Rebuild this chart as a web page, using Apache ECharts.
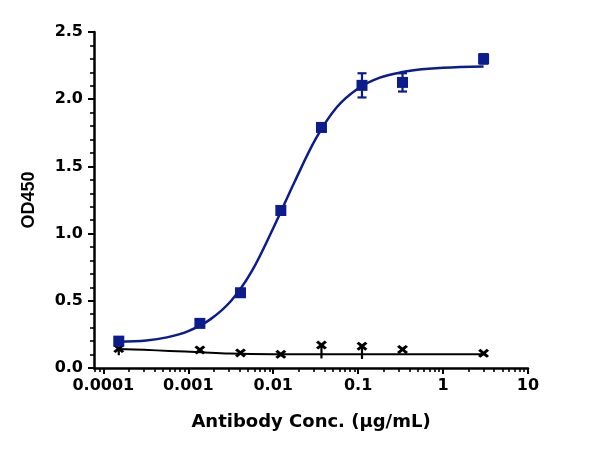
<!DOCTYPE html>
<html>
<head>
<meta charset="utf-8">
<script src="https://cdn.jsdelivr.net/npm/echarts@6/dist/echarts.min.js"></script>
<style>
  html, body { margin: 0; padding: 0; background: #fff; }
  #chart { width: 600px; height: 451px; }
</style>
</head>
<body>
<div id="chart"></div>
<script>
// 浓度 (µg/mL) 与 OD450 读数
const conc = [0.000152, 0.00137, 0.00412, 0.0123, 0.037, 0.111, 0.333, 3.0]
const blueMean = [0.200, 0.332, 0.560, 1.172, 1.790, 2.103, 2.125, 2.300]
const blueErr = [0.010, 0.012, 0.020, 0.012, 0.030, 0.090, 0.068, 0.035]
const blackMean = [0.145, 0.134, 0.112, 0.102, 0.171, 0.162, 0.138, 0.109]
const blackErrLow = [0.050, 0.010, 0.010, 0.010, 0.100, 0.095, 0.010, 0.010]

// 拟合曲线
const blueCurveConc = [0.00015, 0.00032, 0.00056, 0.001, 0.0018, 0.0032, 0.0056, 0.01, 0.018, 0.032, 0.056, 0.1, 0.18, 0.32, 0.56, 1, 3]
const blueCurveVal = [0.195, 0.205, 0.228, 0.275, 0.360, 0.500, 0.720, 1.040, 1.390, 1.710, 1.940, 2.080, 2.160, 2.200, 2.222, 2.234, 2.243]
const blackCurveConc = [0.00015, 0.0003, 0.0006, 0.0014, 0.003, 0.01, 0.1, 3]
const blackCurveVal = [0.141, 0.135, 0.127, 0.117, 0.108, 0.103, 0.102, 0.102]

// 坐标轴刻度
const xTickLabels = ['0.0001', '0.001', '0.01', '0.1', '1', '10']
const xMajorExp = [-4, -3, -2, -1, 0, 1]
const xMinorMult = [2, 3, 4, 5, 6, 7, 8, 9]

const BLUE = '#0c1c8c'
const lg = Math.log10

const minorTicks = [lg(8e-5), lg(9e-5)]
xMajorExp.slice(0, -1).forEach(e => {
  xMinorMult.forEach(m => minorTicks.push(lg(m) + e))
})

const X_MIN = -4.11
const X_MAX = 1
const gridRect = { left: 94, right: 72, top: 32, bottom: 83 }
const bold16 = { fontFamily: 'DejaVu Sans', fontWeight: 'bold', fontSize: 16, color: '#000' }

const xSymbol = 'path://M0,2.5 L2.5,0 L6,3.5 L9.5,0 L12,2.5 L8.5,6 L12,9.5 L9.5,12 L6,8.5 L2.5,12 L0,9.5 L3.5,6 Z'

const errorBar = (color, capW) => (params, api) => {
  const top = api.coord([api.value(0), api.value(2)])
  const bot = api.coord([api.value(0), api.value(1)])
  const style = { stroke: color, lineWidth: 2.2 }
  const children = [
    { type: 'line', shape: { x1: top[0], y1: top[1], x2: bot[0], y2: bot[1] }, style }
  ]
  if (capW > 0) {
    children.push(
      { type: 'line', shape: { x1: top[0] - capW, y1: top[1], x2: top[0] + capW, y2: top[1] }, style },
      { type: 'line', shape: { x1: bot[0] - capW, y1: bot[1], x2: bot[0] + capW, y2: bot[1] }, style }
    )
  }
  return { type: 'group', children }
}

const chart = echarts.init(document.getElementById('chart'), null, { renderer: 'canvas' })

chart.setOption({
  backgroundColor: '#fff',
  animation: false,
  grid: [gridRect, gridRect],
  xAxis: [
    {
      type: 'value',
      gridIndex: 0,
      min: X_MIN,
      max: X_MAX,
      name: 'Antibody Conc. (μg/mL)',
      nameLocation: 'middle',
      nameGap: 45,
      nameTextStyle: { fontFamily: 'DejaVu Sans', fontWeight: 'bold', fontSize: 18, color: '#000' },
      axisLine: { onZero: false, lineStyle: { color: '#000', width: 2.5 } },
      axisTick: { length: 6, lineStyle: { color: '#000', width: 2 }, customValues: xMajorExp },
      axisLabel: {
        ...bold16,
        margin: 10,
        customValues: xMajorExp,
        formatter: v => xTickLabels[Math.round(v) + 4]
      },
      splitLine: { show: false }
    },
    {
      type: 'value',
      gridIndex: 1,
      min: X_MIN,
      max: X_MAX,
      axisLine: { show: false, onZero: false },
      axisTick: { length: 4, lineStyle: { color: '#000', width: 1.6 }, customValues: minorTicks },
      axisLabel: { show: false },
      splitLine: { show: false }
    }
  ],
  yAxis: [
    {
      type: 'value',
      gridIndex: 0,
      min: 0,
      max: 2.5,
      interval: 0.5,
      name: 'OD450',
      nameLocation: 'middle',
      nameGap: 56,
      nameTextStyle: { fontFamily: 'Liberation Sans Narrow, Liberation Sans', fontWeight: 'bold', fontSize: 18, color: '#000' },
      axisLine: { show: true, onZero: false, lineStyle: { color: '#000', width: 2.5 } },
      axisTick: { show: true, length: 6, lineStyle: { color: '#000', width: 2 } },
      minorTick: { show: true, splitNumber: 5, length: 4, lineStyle: { color: '#000', width: 1.6 } },
      axisLabel: { ...bold16, margin: 11, formatter: v => v.toFixed(1) },
      splitLine: { show: false }
    },
    {
      type: 'value',
      gridIndex: 1,
      min: 0,
      max: 2.5,
      show: false
    }
  ],
  series: [
    {
      type: 'line',
      data: blackCurveConc.map((c, i) => [lg(c), blackCurveVal[i]]),
      smooth: 0.35,
      symbol: 'none',
      lineStyle: { color: '#000', width: 2 },
      z: 2
    },
    {
      type: 'custom',
      data: conc.map((c, i) => [lg(c), blackMean[i] - blackErrLow[i], blackMean[i]]),
      renderItem: errorBar('#000', 0),
      z: 3
    },
    {
      type: 'scatter',
      data: conc.map((c, i) => [lg(c), blackMean[i]]),
      symbol: xSymbol,
      symbolSize: [11, 9],
      itemStyle: { color: '#000', opacity: 1 },
      z: 4
    },
    {
      type: 'line',
      data: blueCurveConc.map((c, i) => [lg(c), blueCurveVal[i]]),
      smooth: 0.35,
      symbol: 'none',
      lineStyle: { color: BLUE, width: 2.5 },
      z: 5
    },
    {
      type: 'custom',
      data: conc.map((c, i) => [lg(c), blueMean[i] - blueErr[i], blueMean[i] + blueErr[i]]),
      renderItem: errorBar(BLUE, 4.5),
      z: 6
    },
    {
      type: 'scatter',
      data: conc.map((c, i) => [lg(c), blueMean[i]]),
      symbol: 'rect',
      symbolSize: 11,
      itemStyle: { color: BLUE, opacity: 1 },
      z: 7
    }
  ]
})
</script>
</body>
</html>
